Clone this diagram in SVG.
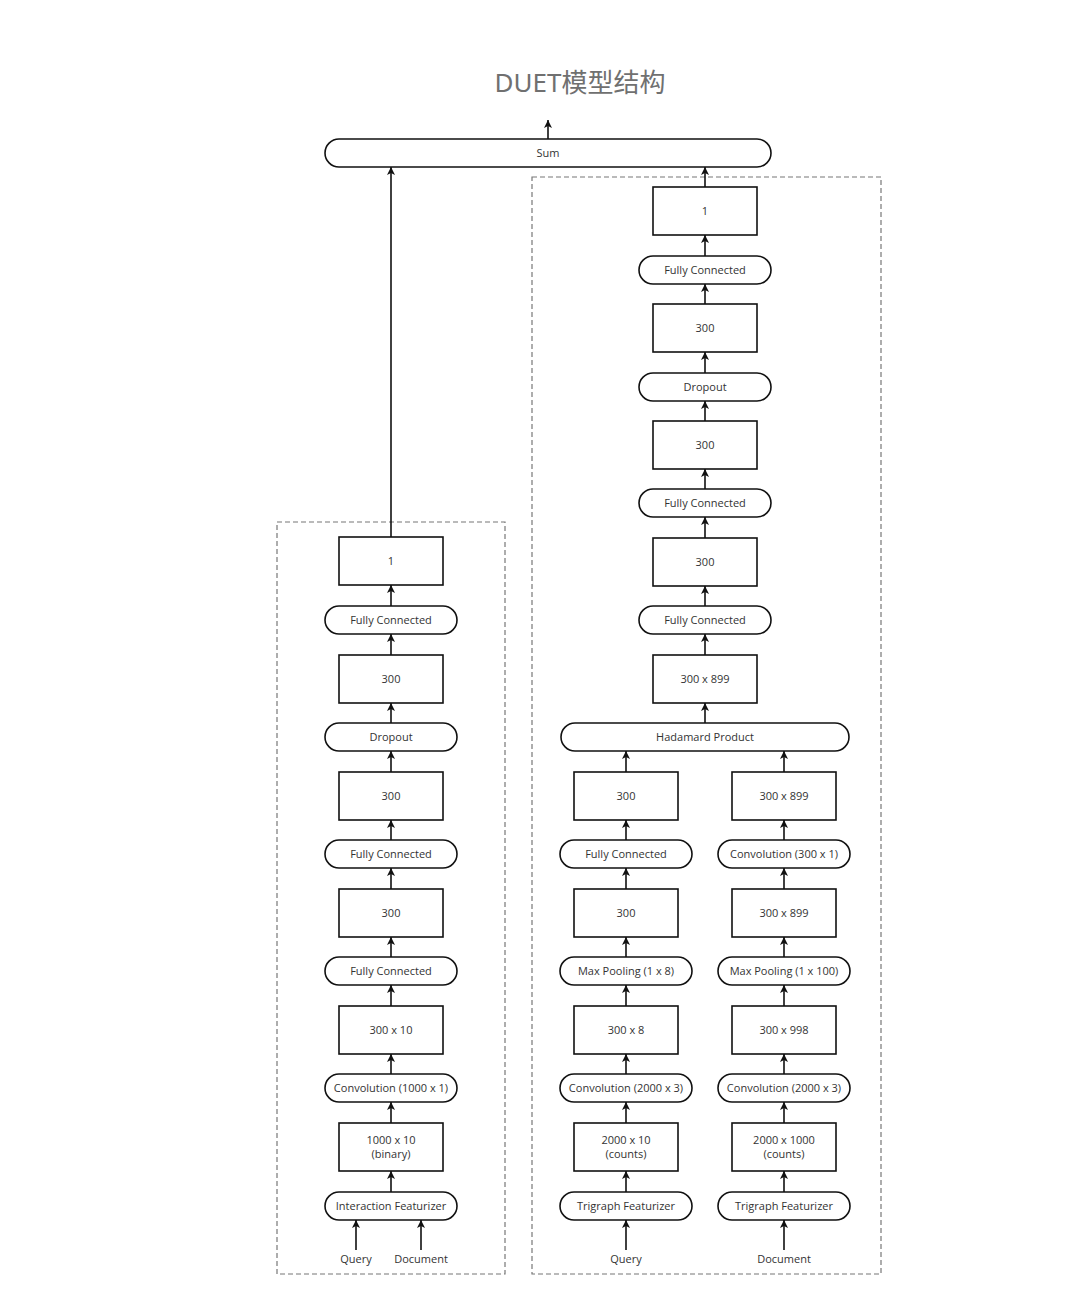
<svg xmlns="http://www.w3.org/2000/svg" width="1080" height="1297" viewBox="0 0 1080 1297">
<defs>
<marker id="ah" markerUnits="userSpaceOnUse" markerWidth="10" markerHeight="10" refX="8" refY="4" orient="auto">
<path d="M0,0 L8,4 L0,8 L2,4 z" fill="#111"/>
</marker>
<style>
.box{fill:#fff;stroke:#111;stroke-width:1.6}
.pill{fill:#fff;stroke:#111;stroke-width:1.6}
.dash{fill:none;stroke:#777;stroke-width:1.2;stroke-dasharray:5,3}
.t{font-family:"Open Sans","Liberation Sans",sans-serif;font-size:11px;fill:#333;text-anchor:middle;dominant-baseline:central}
.c line{stroke:#111;stroke-width:1.6;marker-end:url(#ah)}
.title{font-family:"Noto Sans","Noto Sans CJK SC",sans-serif;font-size:26px;fill:#707070;text-anchor:middle}
</style>
</defs>
<rect width="1080" height="1297" fill="#fff"/>
<text class="title" x="580" y="92">DUET模型结构</text>

<rect class="dash" x="277" y="522" width="228" height="752"/>
<rect class="dash" x="532" y="177" width="349" height="1097"/>

<g id="sum"><rect class="pill" x="325" y="139" width="446" height="28" rx="14"/><text class="t" x="548" y="152.5">Sum</text></g>

<!-- Left column -->
<g id="l1"><rect class="box" x="339" y="537" width="104" height="48"/><text class="t" x="391" y="560.5">1</text></g>
<g id="l2"><rect class="pill" x="325" y="606" width="132" height="28" rx="14"/><text class="t" x="391" y="619.5">Fully Connected</text></g>
<g id="l3"><rect class="box" x="339" y="655" width="104" height="48"/><text class="t" x="391" y="678.5">300</text></g>
<g id="l4"><rect class="pill" x="325" y="723" width="132" height="28" rx="14"/><text class="t" x="391" y="736.5">Dropout</text></g>
<g id="l5"><rect class="box" x="339" y="772" width="104" height="48"/><text class="t" x="391" y="795.5">300</text></g>
<g id="l6"><rect class="pill" x="325" y="840" width="132" height="28" rx="14"/><text class="t" x="391" y="853.5">Fully Connected</text></g>
<g id="l7"><rect class="box" x="339" y="889" width="104" height="48"/><text class="t" x="391" y="912.5">300</text></g>
<g id="l8"><rect class="pill" x="325" y="957" width="132" height="28" rx="14"/><text class="t" x="391" y="970.5">Fully Connected</text></g>
<g id="l9"><rect class="box" x="339" y="1006" width="104" height="48"/><text class="t" x="391" y="1029.5">300 x 10</text></g>
<g id="l10"><rect class="pill" x="325" y="1074" width="132" height="28" rx="14"/><text class="t" x="391" y="1087.5">Convolution (1000 x 1)</text></g>
<g id="l11"><rect class="box" x="339" y="1123" width="104" height="48"/><text class="t" x="391" y="1139.5">1000 x 10</text><text class="t" x="391" y="1153.5">(binary)</text></g>
<g id="l12"><rect class="pill" x="325" y="1192" width="132" height="28" rx="14"/><text class="t" x="391" y="1205.5">Interaction Featurizer</text></g>
<g id="lq"><text class="t" x="356" y="1258.5">Query</text></g>
<g id="ld"><text class="t" x="421" y="1258.5">Document</text></g>

<!-- Right main column -->
<g id="r1"><rect class="box" x="653" y="187" width="104" height="48"/><text class="t" x="705" y="210.5">1</text></g>
<g id="r2"><rect class="pill" x="639" y="256" width="132" height="28" rx="14"/><text class="t" x="705" y="269.5">Fully Connected</text></g>
<g id="r3"><rect class="box" x="653" y="304" width="104" height="48"/><text class="t" x="705" y="327.5">300</text></g>
<g id="r4"><rect class="pill" x="639" y="373" width="132" height="28" rx="14"/><text class="t" x="705" y="386.5">Dropout</text></g>
<g id="r5"><rect class="box" x="653" y="421" width="104" height="48"/><text class="t" x="705" y="444.5">300</text></g>
<g id="r6"><rect class="pill" x="639" y="489" width="132" height="28" rx="14"/><text class="t" x="705" y="502.5">Fully Connected</text></g>
<g id="r7"><rect class="box" x="653" y="538" width="104" height="48"/><text class="t" x="705" y="561.5">300</text></g>
<g id="r8"><rect class="pill" x="639" y="606" width="132" height="28" rx="14"/><text class="t" x="705" y="619.5">Fully Connected</text></g>
<g id="r9"><rect class="box" x="653" y="655" width="104" height="48"/><text class="t" x="705" y="678.5">300 x 899</text></g>
<g id="hp"><rect class="pill" x="561" y="723" width="288" height="28" rx="14"/><text class="t" x="705" y="736.5">Hadamard Product</text></g>

<!-- Query sub-column -->
<g id="q1"><rect class="box" x="574" y="772" width="104" height="48"/><text class="t" x="626" y="795.5">300</text></g>
<g id="q2"><rect class="pill" x="560" y="840" width="132" height="28" rx="14"/><text class="t" x="626" y="853.5">Fully Connected</text></g>
<g id="q3"><rect class="box" x="574" y="889" width="104" height="48"/><text class="t" x="626" y="912.5">300</text></g>
<g id="q4"><rect class="pill" x="560" y="957" width="132" height="28" rx="14"/><text class="t" x="626" y="970.5">Max Pooling (1 x 8)</text></g>
<g id="q5"><rect class="box" x="574" y="1006" width="104" height="48"/><text class="t" x="626" y="1029.5">300 x 8</text></g>
<g id="q6"><rect class="pill" x="560" y="1074" width="132" height="28" rx="14"/><text class="t" x="626" y="1087.5">Convolution (2000 x 3)</text></g>
<g id="q7"><rect class="box" x="574" y="1123" width="104" height="48"/><text class="t" x="626" y="1139.5">2000 x 10</text><text class="t" x="626" y="1153.5">(counts)</text></g>
<g id="q8"><rect class="pill" x="560" y="1192" width="132" height="28" rx="14"/><text class="t" x="626" y="1205.5">Trigraph Featurizer</text></g>
<g id="qq"><text class="t" x="626" y="1258.5">Query</text></g>

<!-- Document sub-column -->
<g id="d1"><rect class="box" x="732" y="772" width="104" height="48"/><text class="t" x="784" y="795.5">300 x 899</text></g>
<g id="d2"><rect class="pill" x="718" y="840" width="132" height="28" rx="14"/><text class="t" x="784" y="853.5">Convolution (300 x 1)</text></g>
<g id="d3"><rect class="box" x="732" y="889" width="104" height="48"/><text class="t" x="784" y="912.5">300 x 899</text></g>
<g id="d4"><rect class="pill" x="718" y="957" width="132" height="28" rx="14"/><text class="t" x="784" y="970.5">Max Pooling (1 x 100)</text></g>
<g id="d5"><rect class="box" x="732" y="1006" width="104" height="48"/><text class="t" x="784" y="1029.5">300 x 998</text></g>
<g id="d6"><rect class="pill" x="718" y="1074" width="132" height="28" rx="14"/><text class="t" x="784" y="1087.5">Convolution (2000 x 3)</text></g>
<g id="d7"><rect class="box" x="732" y="1123" width="104" height="48"/><text class="t" x="784" y="1139.5">2000 x 1000</text><text class="t" x="784" y="1153.5">(counts)</text></g>
<g id="d8"><rect class="pill" x="718" y="1192" width="132" height="28" rx="14"/><text class="t" x="784" y="1205.5">Trigraph Featurizer</text></g>
<g id="dd"><text class="t" x="784" y="1258.5">Document</text></g>

<g id="connectors" class="c">
<line x1="548" y1="139" x2="548" y2="120"/>
<line x1="391" y1="537" x2="391" y2="167"/>
<line x1="391" y1="606" x2="391" y2="585"/>
<line x1="391" y1="655" x2="391" y2="634"/>
<line x1="391" y1="723" x2="391" y2="703"/>
<line x1="391" y1="772" x2="391" y2="751"/>
<line x1="391" y1="840" x2="391" y2="820"/>
<line x1="391" y1="889" x2="391" y2="868"/>
<line x1="391" y1="957" x2="391" y2="937"/>
<line x1="391" y1="1006" x2="391" y2="985"/>
<line x1="391" y1="1074" x2="391" y2="1054"/>
<line x1="391" y1="1123" x2="391" y2="1102"/>
<line x1="391" y1="1192" x2="391" y2="1171"/>
<line x1="356" y1="1250" x2="356" y2="1220"/>
<line x1="421" y1="1250" x2="421" y2="1220"/>
<line x1="705" y1="187" x2="705" y2="167"/>
<line x1="705" y1="256" x2="705" y2="235"/>
<line x1="705" y1="304" x2="705" y2="284"/>
<line x1="705" y1="373" x2="705" y2="352"/>
<line x1="705" y1="421" x2="705" y2="401"/>
<line x1="705" y1="489" x2="705" y2="469"/>
<line x1="705" y1="538" x2="705" y2="517"/>
<line x1="705" y1="606" x2="705" y2="586"/>
<line x1="705" y1="655" x2="705" y2="634"/>
<line x1="705" y1="723" x2="705" y2="703"/>
<line x1="626" y1="772" x2="626" y2="751"/>
<line x1="626" y1="840" x2="626" y2="820"/>
<line x1="626" y1="889" x2="626" y2="868"/>
<line x1="626" y1="957" x2="626" y2="937"/>
<line x1="626" y1="1006" x2="626" y2="985"/>
<line x1="626" y1="1074" x2="626" y2="1054"/>
<line x1="626" y1="1123" x2="626" y2="1102"/>
<line x1="626" y1="1192" x2="626" y2="1171"/>
<line x1="626" y1="1250" x2="626" y2="1220"/>
<line x1="784" y1="772" x2="784" y2="751"/>
<line x1="784" y1="840" x2="784" y2="820"/>
<line x1="784" y1="889" x2="784" y2="868"/>
<line x1="784" y1="957" x2="784" y2="937"/>
<line x1="784" y1="1006" x2="784" y2="985"/>
<line x1="784" y1="1074" x2="784" y2="1054"/>
<line x1="784" y1="1123" x2="784" y2="1102"/>
<line x1="784" y1="1192" x2="784" y2="1171"/>
<line x1="784" y1="1250" x2="784" y2="1220"/>
</g>
</svg>
